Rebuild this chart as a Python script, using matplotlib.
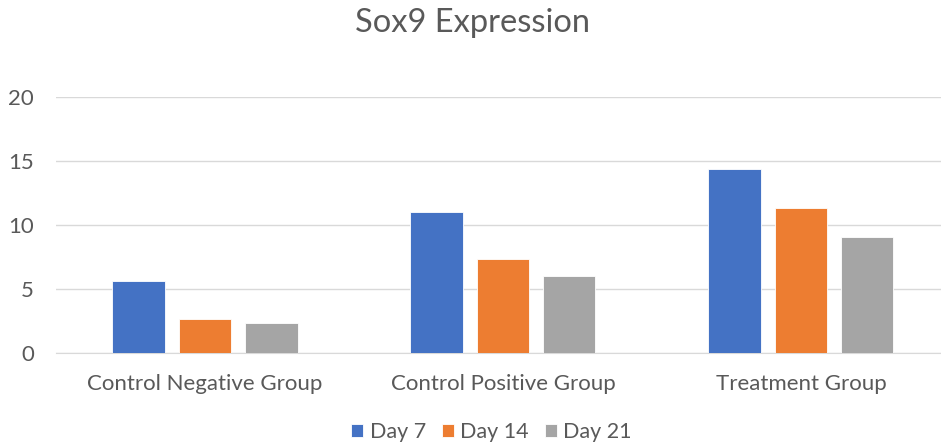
import numpy as np
import matplotlib.pyplot as plt

# Sox9 expression values per group
groups = ["Control Negative Group", "Control Positive Group", "Treatment Group"]
day7 = [5.63, 11.03, 14.34]
day14 = [2.65, 7.32, 11.35]
day21 = [2.34, 6.02, 9.04]
series_names = ["Day 7", "Day 14", "Day 21"]
colors = ["#4472C4", "#ED7D31", "#A5A5A5"]

plt.rcParams['font.family'] = ['Lato', 'DejaVu Sans']

fig = plt.figure(figsize=(9.41, 4.45), dpi=100)
ax = fig.add_axes([56 / 941, 1 - 353 / 445, 1 - 56 / 941, (353 - 97) / 445])

x = np.arange(len(groups))
width = 0.175
pitch = 0.223
for i, (vals, name, col) in enumerate(zip([day7, day14, day21], series_names, colors)):
    ax.bar(x + (i - 1) * pitch, vals, width, color=col, label=name,
           edgecolor="white", linewidth=0.6, zorder=3)

ax.set_ylim(0, 20)
ax.set_xlim(-0.5, 2.47)
ax.set_yticks([0, 5, 10, 15, 20])
ax.yaxis.grid(True, color="#d9d9d9", linewidth=1, zorder=0)
ax.set_axisbelow(True)
for s in ["top", "right", "left"]:
    ax.spines[s].set_visible(False)
ax.spines["bottom"].set_color("#d9d9d9")
ax.tick_params(axis="both", length=0, labelsize=16, colors="#595959")
ax.tick_params(axis="y", pad=16)
ax.tick_params(axis="x", pad=15)
ax.set_xticks(x)
ax.set_xticklabels(groups)

fig.text(0.502, 0.948, "Sox9 Expression", ha="center", va="center",
         fontsize=23.5, color="#595959")

ax.legend(loc="center", bbox_to_anchor=(0.5 - 56 / 941 / 2 + 0.022, -0.31), ncol=3,
          frameon=False, fontsize=15.5, handlelength=0.55, handleheight=0.55,
          handletextpad=0.3, columnspacing=0.75, labelcolor="#595959")

plt.savefig("out.png", dpi=100)
